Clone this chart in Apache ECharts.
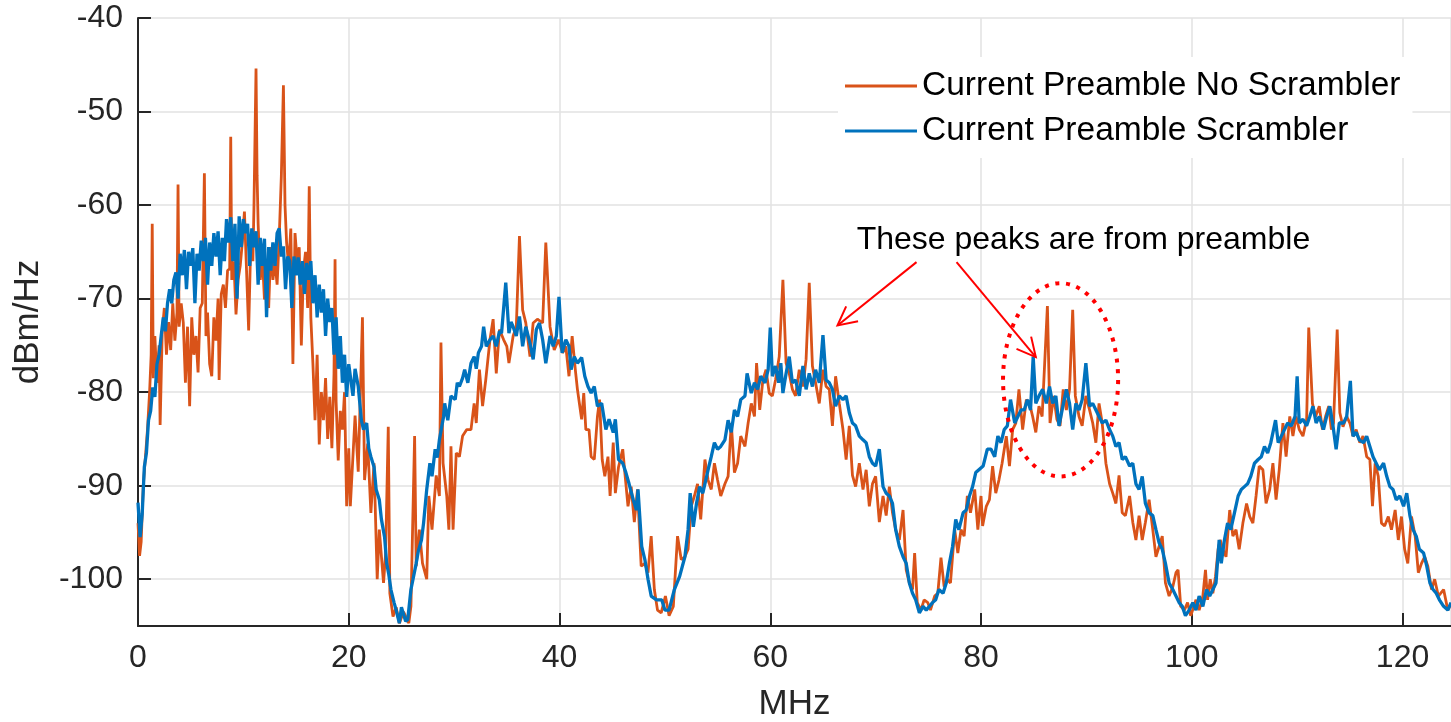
<!DOCTYPE html>
<html>
<head>
<meta charset="utf-8">
<title>Preamble spectrum</title>
<script src="https://cdn.jsdelivr.net/npm/echarts@6/dist/echarts.min.js"></script>
<style>
    html, body { margin: 0; padding: 0; background: #fff; }
    #spectrum { width: 1451px; height: 722px; }
</style>
</head>
<body>
<div id="spectrum"></div>
<script>
// series values, [MHz, dBm/Hz]
const noScrambler0to20 = [[0.0,-94.0],[0.15,-97.5],[0.3,-96.0],[0.5,-90.0],[0.7,-87.0],[0.9,-84.0],[1.1,-80.0],[1.25,-76.0],[1.35,-62.0],[1.45,-78.5],[1.6,-74.0],[1.8,-79.0],[2.0,-75.0],[2.1,-83.5],[2.3,-73.5],[2.5,-71.0],[2.7,-76.0],[2.9,-72.5],[3.1,-75.5],[3.3,-70.5],[3.5,-74.5],[3.7,-71.5],[3.8,-57.8],[3.9,-73.0],[4.1,-70.5],[4.3,-72.6],[4.5,-79.0],[4.7,-73.0],[4.9,-81.5],[5.1,-72.0],[5.3,-76.0],[5.5,-74.0],[5.7,-77.9],[5.9,-71.0],[6.1,-70.5],[6.3,-56.6],[6.45,-74.0],[6.6,-71.5],[6.8,-77.0],[7.0,-78.3],[7.2,-72.0],[7.4,-74.5],[7.6,-70.0],[7.7,-78.7],[7.9,-69.5],[8.1,-68.5],[8.3,-71.0],[8.5,-67.0],[8.7,-66.8],[8.8,-52.7],[8.9,-68.0],[9.1,-66.0],[9.3,-71.7],[9.5,-68.0],[9.7,-66.5],[9.9,-64.0],[10.1,-60.7],[10.3,-67.0],[10.5,-73.4],[10.7,-64.0],[10.9,-66.0],[11.0,-60.5],[11.2,-45.4],[11.3,-56.8],[11.4,-62.0],[11.6,-68.0],[11.8,-65.5],[12.0,-70.1],[12.2,-66.0],[12.4,-71.0],[12.6,-64.5],[12.8,-68.0],[13.0,-66.0],[13.2,-68.5],[13.4,-63.5],[13.6,-57.0],[13.8,-47.2],[13.95,-60.0],[14.1,-64.0],[14.3,-66.5],[14.5,-62.5],[14.7,-77.0],[14.9,-63.0],[15.1,-66.0],[15.3,-64.5],[15.5,-75.0],[15.7,-67.0],[15.9,-65.0],[16.1,-71.0],[16.25,-58.0],[16.4,-72.0],[16.6,-77.0],[16.8,-83.0],[17.0,-76.0],[17.2,-85.6],[17.4,-80.0],[17.6,-83.0],[17.8,-78.5],[18.0,-85.0],[18.2,-80.5],[18.4,-86.0],[18.6,-78.0],[18.7,-65.8],[18.8,-81.0],[19.0,-87.3],[19.2,-82.0],[19.4,-84.0],[19.6,-80.0],[19.8,-92.2],[20.0,-86.0]]
const noScrambler20to40 = [[20.15,-92.2],[20.6,-82.5],[20.9,-88.5],[21.3,-72.0],[21.5,-89.4],[21.8,-85.5],[22.1,-92.9],[22.4,-87.6],[22.7,-100.0],[22.9,-94.7],[23.3,-100.4],[23.5,-97.2],[23.75,-83.7],[23.9,-101.5],[24.2,-104.0],[24.5,-103.0],[24.8,-104.7],[25.2,-103.5],[25.7,-104.7],[25.9,-102.9],[26.25,-84.7],[26.4,-98.6],[26.7,-94.7],[27.0,-98.3],[27.4,-100.0],[27.6,-91.1],[27.9,-94.7],[28.3,-88.9],[28.6,-91.1],[28.75,-74.7],[28.95,-87.6],[29.3,-91.1],[29.5,-94.7],[29.7,-85.8],[29.9,-94.7],[30.2,-86.5],[30.5,-86.9],[30.8,-84.7],[31.2,-84.0],[31.6,-84.0],[31.9,-81.2],[32.1,-83.3],[32.4,-77.6],[32.7,-81.5],[33.0,-78.7],[33.4,-74.4],[33.7,-72.2],[34.0,-78.0],[34.3,-73.3],[34.7,-74.4],[35.0,-75.1],[35.2,-76.9],[35.6,-74.0],[35.9,-73.0],[36.2,-63.3],[36.5,-71.2],[36.8,-72.6],[37.2,-76.2],[37.5,-72.6],[37.9,-72.2],[38.4,-72.6],[38.7,-64.0],[39.1,-73.0],[39.5,-75.5],[39.9,-74.4]]
const noScrambler40to60 = [[40.3,-75.8],[40.6,-75.1],[40.9,-78.3],[41.2,-74.0],[41.5,-77.6],[41.7,-79.7],[42.1,-82.9],[42.3,-80.1],[42.5,-84.0],[42.8,-84.0],[43.0,-86.9],[43.3,-87.2],[43.6,-82.6],[43.8,-80.8],[44.05,-87.2],[44.3,-89.0],[44.6,-86.9],[44.8,-91.1],[45.1,-85.4],[45.3,-90.8],[45.6,-88.0],[46.0,-86.1],[46.2,-88.6],[46.5,-92.2],[46.8,-90.1],[47.1,-93.9],[47.4,-90.4],[47.75,-98.6],[48.1,-98.3],[48.4,-99.3],[48.7,-95.4],[49.0,-101.1],[49.3,-103.3],[49.65,-103.6],[50.05,-101.8],[50.4,-103.9],[50.8,-102.9],[51.2,-95.4],[51.55,-97.9],[51.9,-97.6],[52.2,-96.8],[52.5,-92.2],[52.8,-91.1],[53.1,-89.8],[53.4,-93.6],[53.8,-87.2],[54.1,-89.4],[54.4,-90.4],[54.7,-87.6],[55.0,-89.4],[55.3,-91.1],[55.7,-89.8],[56.0,-89.0],[56.3,-83.3],[56.6,-88.6],[56.9,-87.6],[57.2,-84.7],[57.6,-85.8],[57.9,-83.3],[58.2,-81.2],[58.5,-82.6],[58.7,-76.9],[59.0,-81.9],[59.3,-78.7],[59.6,-77.6],[59.9,-80.1]]
const noScrambler60to80 = [[60.2,-80.4],[60.5,-78.7],[60.85,-76.2],[61.2,-68.0],[61.5,-76.9],[61.8,-78.0],[62.1,-79.7],[62.4,-80.4],[62.75,-77.6],[63.1,-79.4],[63.4,-76.5],[63.7,-68.3],[64.0,-77.2],[64.3,-79.0],[64.65,-81.2],[65.0,-77.6],[65.3,-79.4],[65.6,-79.7],[65.9,-83.6],[66.2,-78.3],[66.55,-81.2],[66.9,-84.0],[67.2,-87.2],[67.5,-83.6],[67.8,-88.9],[68.1,-90.1],[68.45,-87.6],[68.8,-90.4],[69.1,-88.3],[69.4,-92.2],[69.7,-89.8],[70.0,-89.0],[70.35,-93.9],[70.7,-91.1],[71.0,-93.2],[71.3,-90.1],[71.6,-92.9],[71.9,-94.7],[72.25,-95.8],[72.6,-92.6],[72.9,-99.0],[73.2,-100.4],[73.5,-101.1],[73.7,-97.2],[73.95,-102.5],[74.3,-103.3],[74.6,-102.2],[74.95,-102.5],[75.2,-103.3],[75.6,-101.8],[75.9,-101.5],[76.2,-97.7],[76.5,-100.8],[76.8,-100.0],[77.1,-100.4],[77.5,-94.7],[77.8,-97.2],[78.1,-94.7],[78.4,-95.4],[78.7,-91.1],[79.0,-92.9],[79.4,-90.4],[79.7,-94.7],[80.0,-91.1]]
const noScrambler80to100 = [[80.15,-94.3],[80.5,-92.2],[80.8,-91.5],[81.1,-87.9],[81.4,-90.8],[81.7,-89.4],[82.0,-87.6],[82.4,-84.7],[82.7,-87.9],[83.0,-84.0],[83.3,-83.3],[83.6,-79.7],[83.95,-84.0],[84.3,-80.8],[84.6,-81.2],[84.9,-82.6],[85.2,-84.3],[85.5,-81.5],[85.8,-82.6],[86.3,-70.8],[86.55,-83.3],[86.9,-80.4],[87.2,-82.9],[87.5,-83.6],[87.8,-79.7],[88.1,-81.9],[88.4,-79.7],[88.7,-71.2],[88.95,-80.4],[89.3,-82.6],[89.6,-83.6],[89.95,-80.4],[90.3,-81.9],[90.6,-83.3],[90.9,-85.4],[91.2,-81.2],[91.5,-83.3],[91.85,-87.6],[92.2,-89.8],[92.5,-90.8],[92.8,-91.9],[93.1,-88.9],[93.4,-92.9],[93.7,-93.2],[94.1,-91.1],[94.4,-93.9],[94.7,-95.8],[95.0,-93.2],[95.3,-95.8],[95.6,-93.9],[95.95,-91.5],[96.3,-94.7],[96.6,-97.6],[96.9,-96.5],[97.2,-95.4],[97.5,-100.4],[97.85,-101.8],[98.2,-100.8],[98.5,-99.3],[98.7,-99.0],[98.95,-102.9],[99.3,-103.3],[99.6,-102.5],[99.9,-103.9]]
const noScrambler100to125 = [[100.4,-102.2],[100.7,-103.3],[101.05,-101.8],[101.3,-99.0],[101.5,-102.2],[101.75,-100.0],[102.0,-101.5],[102.25,-99.7],[102.5,-96.8],[102.7,-95.8],[102.95,-96.8],[103.25,-97.6],[103.6,-92.6],[103.9,-95.4],[104.2,-94.7],[104.5,-96.8],[104.85,-94.0],[105.2,-91.9],[105.5,-93.3],[105.8,-94.0],[106.1,-91.1],[106.4,-87.9],[106.75,-88.3],[107.05,-91.9],[107.4,-90.4],[107.7,-87.6],[108.0,-91.5],[108.3,-88.3],[108.65,-83.3],[108.95,-86.9],[109.3,-82.6],[109.6,-84.7],[109.9,-82.6],[110.2,-84.0],[110.55,-84.7],[110.9,-82.9],[111.1,-73.1],[111.45,-81.2],[111.75,-82.6],[112.1,-81.5],[112.4,-84.0],[112.7,-82.6],[113.0,-81.5],[113.25,-84.0],[113.45,-83.3],[113.8,-73.3],[114.05,-82.2],[114.35,-83.7],[114.7,-82.6],[115.0,-83.3],[115.3,-84.7],[115.6,-84.0],[115.95,-85.4],[116.25,-84.7],[116.6,-86.9],[116.9,-87.2],[117.15,-92.2],[117.4,-87.6],[117.7,-89.0],[118.0,-94.0],[118.3,-94.3],[118.65,-93.3],[118.95,-94.7],[119.3,-92.6],[119.6,-95.8],[119.9,-93.3],[120.2,-96.8],[120.5,-98.3],[120.85,-93.3],[121.2,-95.4],[121.5,-99.3],[121.8,-98.3],[122.1,-97.6],[122.4,-98.6],[122.75,-101.1],[123.05,-100.0],[123.4,-101.8],[123.9,-101.1],[124.3,-103.3],[124.6,-102.6]]

const scrambler0to20 = [[0.0,-91.8],[0.2,-95.5],[0.4,-93.0],[0.6,-88.0],[0.8,-86.5],[1.0,-83.0],[1.2,-82.0],[1.4,-79.5],[1.6,-80.5],[1.8,-77.0],[2.0,-76.0],[2.2,-74.0],[2.4,-72.0],[2.6,-73.5],[2.8,-70.5],[3.0,-69.0],[3.2,-70.5],[3.4,-68.0],[3.6,-67.2],[3.8,-70.0],[4.0,-65.2],[4.2,-67.5],[4.4,-64.8],[4.6,-69.0],[4.8,-65.0],[5.0,-66.5],[5.2,-64.6],[5.4,-70.5],[5.6,-65.2],[5.8,-67.0],[6.0,-63.8],[6.2,-66.0],[6.4,-63.5],[6.6,-68.5],[6.8,-64.0],[7.0,-66.5],[7.2,-63.0],[7.4,-65.5],[7.6,-62.8],[7.8,-67.5],[8.0,-63.5],[8.2,-66.0],[8.4,-61.5],[8.6,-64.0],[8.8,-61.3],[9.0,-66.0],[9.2,-62.0],[9.4,-70.0],[9.6,-61.2],[9.8,-64.5],[10.0,-61.5],[10.2,-63.0],[10.4,-62.0],[10.6,-66.5],[10.8,-62.5],[11.0,-64.5],[11.2,-62.8],[11.4,-68.5],[11.6,-63.5],[11.8,-66.5],[12.0,-63.6],[12.2,-72.0],[12.4,-64.5],[12.6,-67.0],[12.8,-64.0],[13.0,-66.5],[13.2,-63.0],[13.4,-62.5],[13.6,-65.5],[13.8,-64.4],[14.0,-69.0],[14.2,-65.5],[14.4,-66.0],[14.6,-71.0],[14.8,-65.5],[15.0,-67.5],[15.2,-65.6],[15.4,-68.5],[15.6,-66.0],[15.8,-69.5],[16.0,-66.2],[16.2,-68.0],[16.4,-66.0],[16.6,-70.5],[16.8,-67.5],[17.0,-72.0],[17.2,-68.5],[17.4,-71.5],[17.6,-69.0],[17.8,-74.0],[18.0,-70.0],[18.2,-72.5],[18.4,-71.0],[18.6,-76.0],[18.8,-72.0],[19.0,-77.5],[19.2,-74.0],[19.4,-79.0],[19.6,-76.0],[19.8,-80.5],[20.0,-77.0]]
const scrambler20to40 = [[20.1,-76.9],[20.4,-80.4],[20.6,-77.5],[20.9,-79.4],[21.2,-83.0],[21.4,-84.0],[21.7,-83.3],[21.9,-86.0],[22.1,-86.9],[22.4,-88.0],[22.6,-90.4],[22.9,-91.5],[23.1,-93.6],[23.4,-95.5],[23.6,-98.3],[23.8,-99.5],[24.0,-101.1],[24.3,-102.5],[24.5,-103.3],[24.8,-104.7],[25.0,-103.0],[25.15,-102.9],[25.4,-104.5],[25.6,-104.3],[25.9,-101.1],[26.1,-100.0],[26.4,-98.3],[26.6,-97.0],[26.9,-95.8],[27.1,-94.0],[27.4,-90.4],[27.7,-87.6],[27.9,-89.0],[28.2,-86.1],[28.4,-87.0],[28.6,-85.1],[29.0,-82.6],[29.1,-81.2],[29.4,-83.0],[29.7,-80.4],[30.1,-80.8],[30.3,-79.0],[30.5,-79.4],[30.8,-78.5],[31.0,-77.6],[31.3,-79.0],[31.6,-76.9],[31.9,-76.2],[32.1,-77.5],[32.3,-75.8],[32.6,-75.1],[32.8,-73.0],[33.05,-75.1],[33.4,-74.4],[33.7,-74.0],[34.0,-75.1],[34.3,-73.5],[34.5,-73.7],[34.9,-68.3],[35.2,-73.7],[35.4,-72.5],[35.6,-73.0],[35.9,-74.0],[36.2,-71.9],[36.5,-75.1],[36.8,-73.0],[37.2,-74.8],[37.5,-76.5],[37.8,-73.3],[38.1,-72.6],[38.4,-74.4],[38.7,-76.9],[39.1,-74.0],[39.4,-75.1],[39.7,-74.0],[39.95,-69.8]]
const scrambler40to60 = [[40.25,-75.8],[40.6,-74.4],[40.9,-75.1],[41.1,-77.6],[41.4,-76.2],[41.7,-76.9],[42.1,-76.3],[42.4,-78.3],[42.7,-79.4],[43.0,-80.1],[43.3,-79.4],[43.6,-81.5],[44.0,-81.2],[44.4,-84.0],[44.7,-82.9],[45.1,-84.3],[45.3,-82.9],[45.6,-87.2],[46.0,-87.6],[46.3,-88.6],[46.6,-89.8],[47.0,-91.5],[47.3,-92.6],[47.45,-90.4],[47.8,-96.5],[48.1,-97.9],[48.4,-100.0],[48.7,-101.8],[49.2,-102.2],[49.7,-102.2],[50.0,-103.3],[50.4,-103.3],[50.9,-101.1],[51.4,-99.7],[51.9,-97.6],[52.2,-94.7],[52.4,-90.8],[52.7,-94.4],[53.0,-91.9],[53.3,-90.1],[53.6,-90.8],[54.1,-88.3],[54.4,-86.9],[54.7,-85.4],[55.0,-86.1],[55.3,-85.8],[55.7,-85.1],[56.0,-83.0],[56.3,-84.3],[56.6,-81.9],[56.9,-82.6],[57.2,-80.8],[57.6,-80.4],[57.8,-78.0],[58.2,-80.1],[58.5,-79.0],[58.8,-79.7],[59.1,-78.3],[59.5,-79.0],[59.8,-77.6],[60.0,-73.1]]
const scrambler60to80 = [[60.2,-78.3],[60.5,-77.2],[60.8,-79.0],[61.0,-76.9],[61.2,-80.1],[61.5,-78.0],[61.8,-76.2],[62.1,-79.0],[62.4,-78.7],[62.75,-80.4],[63.1,-77.2],[63.4,-79.7],[63.7,-78.0],[64.0,-79.4],[64.3,-77.6],[64.65,-79.0],[65.0,-73.9],[65.3,-78.7],[65.6,-79.0],[65.9,-79.7],[66.2,-81.5],[66.55,-80.4],[66.9,-80.8],[67.2,-80.4],[67.5,-82.2],[67.8,-83.3],[68.1,-83.6],[68.45,-84.7],[68.8,-85.1],[69.1,-85.4],[69.4,-86.9],[69.7,-87.6],[70.0,-87.9],[70.35,-86.1],[70.7,-90.1],[71.0,-90.8],[71.3,-91.1],[71.6,-91.9],[71.9,-94.7],[72.25,-96.5],[72.6,-97.6],[72.9,-98.3],[73.2,-100.4],[73.5,-101.5],[73.8,-102.2],[74.15,-103.6],[74.5,-102.9],[74.8,-103.3],[75.1,-102.9],[75.4,-102.5],[75.7,-102.2],[76.0,-101.1],[76.4,-101.5],[76.7,-100.4],[77.0,-98.3],[77.3,-96.5],[77.6,-93.6],[77.9,-94.7],[78.3,-92.9],[78.6,-92.6],[78.9,-91.1],[79.2,-90.1],[79.5,-88.6],[79.8,-88.3]]
const scrambler80to100 = [[80.2,-87.9],[80.6,-86.1],[80.95,-86.1],[81.3,-86.9],[81.6,-84.7],[81.9,-85.4],[82.2,-84.0],[82.5,-83.6],[82.8,-80.8],[83.2,-83.3],[83.5,-82.6],[83.8,-81.9],[84.1,-81.9],[84.4,-80.8],[84.7,-81.9],[84.95,-76.2],[85.2,-81.2],[85.5,-80.4],[85.85,-79.7],[86.2,-81.2],[86.5,-79.4],[86.8,-81.2],[87.1,-80.4],[87.4,-83.6],[87.7,-81.9],[88.1,-79.7],[88.4,-81.2],[88.7,-84.0],[89.0,-81.2],[89.3,-81.9],[89.6,-80.8],[89.95,-76.9],[90.3,-81.5],[90.6,-81.2],[90.9,-81.9],[91.2,-82.6],[91.5,-83.3],[91.85,-83.0],[92.2,-84.0],[92.5,-84.7],[92.8,-85.8],[93.1,-85.4],[93.4,-87.2],[93.7,-86.9],[94.1,-87.9],[94.4,-87.6],[94.7,-89.8],[95.0,-90.4],[95.3,-89.0],[95.6,-91.9],[95.95,-92.9],[96.3,-93.2],[96.6,-94.7],[96.9,-96.1],[97.2,-96.8],[97.5,-98.3],[97.85,-100.4],[98.2,-101.1],[98.5,-101.8],[98.8,-102.5],[99.1,-102.9],[99.4,-103.9],[99.75,-103.3],[100.1,-102.5]]
const scrambler100to125 = [[100.4,-103.3],[100.7,-101.8],[101.05,-102.9],[101.4,-101.1],[101.7,-101.8],[102.0,-101.1],[102.3,-100.4],[102.6,-95.8],[102.8,-98.3],[103.1,-95.8],[103.4,-94.0],[103.7,-94.7],[104.05,-92.9],[104.4,-91.1],[104.7,-90.4],[105.0,-90.1],[105.3,-89.8],[105.6,-89.0],[105.95,-87.6],[106.3,-87.2],[106.6,-86.9],[106.9,-85.8],[107.2,-86.5],[107.5,-85.4],[107.95,-83.0],[108.2,-85.4],[108.5,-84.7],[108.8,-84.0],[109.1,-83.3],[109.45,-83.6],[109.8,-82.6],[110.0,-78.3],[110.2,-83.3],[110.55,-82.9],[110.9,-83.6],[111.2,-82.6],[111.5,-81.5],[111.8,-83.3],[112.1,-82.6],[112.5,-84.0],[112.8,-82.6],[113.1,-81.5],[113.4,-83.6],[113.7,-86.1],[114.0,-83.3],[114.4,-83.3],[114.7,-82.6],[115.05,-78.8],[115.3,-84.7],[115.6,-84.3],[115.9,-85.1],[116.3,-85.4],[116.6,-84.7],[116.9,-85.8],[117.2,-86.9],[117.5,-87.6],[117.8,-88.3],[118.2,-87.6],[118.5,-89.0],[118.8,-90.1],[119.1,-90.4],[119.4,-91.5],[119.75,-91.1],[120.1,-92.2],[120.4,-90.8],[120.7,-93.2],[121.0,-94.7],[121.3,-95.4],[121.6,-96.8],[122.0,-97.2],[122.3,-98.6],[122.6,-100.4],[122.9,-101.1],[123.2,-101.5],[123.5,-102.2],[123.9,-102.9],[124.3,-103.3],[124.6,-102.5]]

const seriesNames = ['Current Preamble No Scrambler', 'Current Preamble Scrambler']
const noteText = 'These peaks are from preamble'

// annotation anchors in data units
const noteTextAt = [68.2, -63.8]
const noteArrows = [
    { from: [73.88, -66.1], to: [66.38, -72.87] },
    { from: [77.68, -66.1], to: [85.2, -76.25] },
]
const noteCircle = { center: [87.55, -78.68], rx: 5.46, ry: 10.33 }

const fontFamily = '"Liberation Sans", Arial, Helvetica, sans-serif'
const axisColor = '#262626'

const option = {
    animation: false,
    backgroundColor: '#fff',
    grid: {
        left: 138,
        right: 0,
        top: 18,
        bottom: 96,
        containLabel: false,
        outerBoundsMode: 'none',
    },
    legend: {
        orient: 'vertical',
        left: 838,
        top: 57,
        padding: [12, 12, 10, 7],
        backgroundColor: '#fff',
        icon: 'rect',
        itemWidth: 72,
        itemHeight: 3,
        itemGap: 11,
        textStyle: { fontFamily: fontFamily, fontSize: 33.5, color: '#000' },
        data: seriesNames,
    },
    xAxis: {
        type: 'value',
        min: 0,
        max: 124.6,
        interval: 20,
        name: 'MHz',
        nameLocation: 'middle',
        nameGap: 61,
        nameTextStyle: { fontFamily: fontFamily, fontSize: 35, color: axisColor },
        axisLine: { onZero: false, lineStyle: { color: axisColor, width: 2 } },
        axisTick: { inside: true, length: 13, lineStyle: { color: axisColor, width: 2 } },
        axisLabel: {
            showMaxLabel: false,
            margin: 16,
            fontFamily: fontFamily,
            fontSize: 32,
            color: axisColor,
        },
        splitLine: { show: true, lineStyle: { color: '#e2e2e2', width: 1.5 } },
    },
    yAxis: {
        type: 'value',
        min: -105,
        max: -40,
        splitNumber: 7,
        name: 'dBm/Hz',
        nameLocation: 'middle',
        nameGap: 92,
        nameTextStyle: { fontFamily: fontFamily, fontSize: 35, color: axisColor },
        axisLine: { onZero: false, lineStyle: { color: axisColor, width: 2 } },
        axisTick: { inside: true, length: 13, lineStyle: { color: axisColor, width: 2 } },
        axisLabel: {
            showMinLabel: false,
            margin: 15,
            fontFamily: fontFamily,
            fontSize: 32,
            color: axisColor,
        },
        splitLine: { show: true, lineStyle: { color: '#e2e2e2', width: 1.5 } },
    },
    series: [
        {
            name: seriesNames[0],
            type: 'line',
            showSymbol: false,
            color: '#D95319',
            lineStyle: { width: 2.8, color: '#D95319' },
            data: [].concat(noScrambler0to20, noScrambler20to40, noScrambler40to60,
                noScrambler60to80, noScrambler80to100, noScrambler100to125),
        },
        {
            name: seriesNames[1],
            type: 'line',
            showSymbol: false,
            color: '#0072BD',
            lineStyle: { width: 3.3, color: '#0072BD' },
            data: [].concat(scrambler0to20, scrambler20to40, scrambler40to60,
                scrambler60to80, scrambler80to100, scrambler100to125),
        },
    ],
}

const chartDom = document.getElementById('spectrum')
const myChart = echarts.init(chartDom, null, { renderer: 'canvas' })
myChart.setOption(option)

// red notes on top, placed from data units
function drawNotes() {
    const toPx = (p) => myChart.convertToPixel({ gridIndex: 0 }, p)
    const red = '#ff0000'
    const items = []
    noteArrows.forEach((a) => {
        const s = toPx(a.from)
        const t = toPx(a.to)
        const ang = Math.atan2(s[1] - t[1], s[0] - t[0])
        const wing = 21
        const spread = 0.47
        items.push({
            type: 'line',
            z: 100,
            shape: { x1: s[0], y1: s[1], x2: t[0], y2: t[1] },
            style: { stroke: red, lineWidth: 2 },
        })
        items.push({
            type: 'polyline',
            z: 100,
            shape: {
                points: [
                    [t[0] + wing * Math.cos(ang + spread), t[1] + wing * Math.sin(ang + spread)],
                    t,
                    [t[0] + wing * Math.cos(ang - spread), t[1] + wing * Math.sin(ang - spread)],
                ],
            },
            style: { stroke: red, lineWidth: 2, fill: null },
        })
    })
    const c = toPx(noteCircle.center)
    const edge = toPx([noteCircle.center[0] + noteCircle.rx, noteCircle.center[1] + noteCircle.ry])
    items.push({
        type: 'ellipse',
        z: 100,
        shape: { cx: c[0], cy: c[1], rx: Math.abs(edge[0] - c[0]), ry: Math.abs(edge[1] - c[1]) },
        style: { fill: null, stroke: red, lineWidth: 4, lineDash: [4, 6.7] },
    })
    const tp = toPx(noteTextAt)
    items.push({
        type: 'text',
        z: 100,
        style: {
            text: noteText,
            x: tp[0],
            y: tp[1],
            align: 'left',
            verticalAlign: 'middle',
            fill: '#000',
            font: '32px ' + fontFamily,
        },
    })
    myChart.setOption({ graphic: items })
}
drawNotes()
</script>
</body>
</html>
